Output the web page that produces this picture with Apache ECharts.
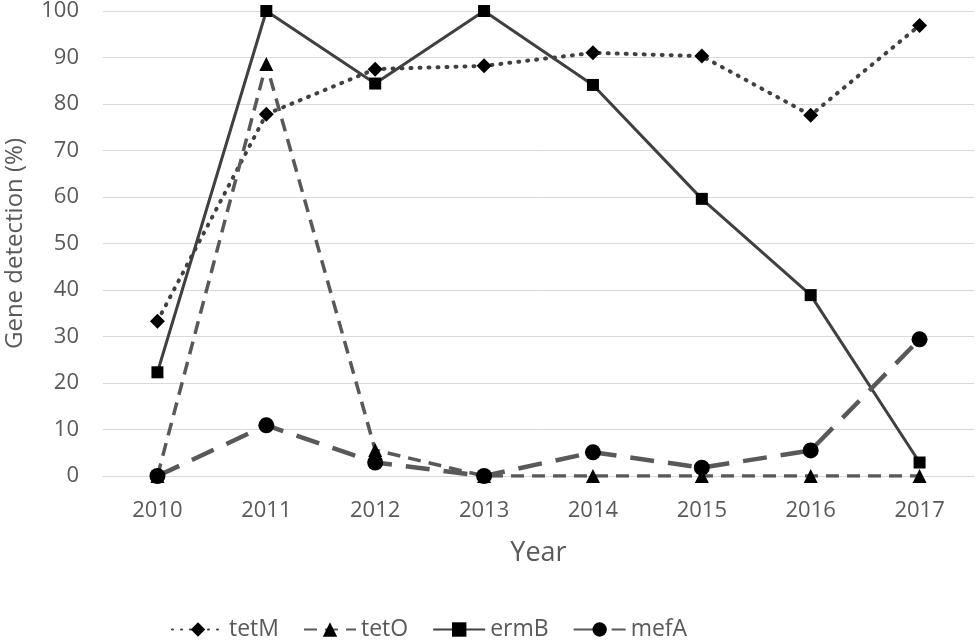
<!DOCTYPE html>
<html>
<head>
<meta charset="utf-8">
<script src="https://cdn.jsdelivr.net/npm/echarts@6/dist/echarts.min.js"></script>
<style>
  html, body { margin: 0; padding: 0; background: #fff; }
  #chart { width: 976px; height: 643px; }
</style>
</head>
<body>
<div id="chart"></div>
<script>
// data
var years = ['2010', '2011', '2012', '2013', '2014', '2015', '2016', '2017'];
var tetM = [33.3, 77.8, 87.5, 88.2, 91.0, 90.3, 77.6, 96.9];
var tetO = [0, 88.6, 5.6, 0, 0, 0, 0, 0];
var ermB = [22.3, 100, 84.4, 100, 84.1, 59.6, 38.9, 2.9];
var mefA = [0, 10.9, 2.9, 0, 5.1, 1.8, 5.5, 29.4];

var font = 'Open Sans';
var chart = echarts.init(document.getElementById('chart'));

function line(name, data, symbol, size, lineStyle) {
    return {
        name: name,
        type: 'line',
        data: data,
        symbol: symbol,
        symbolSize: size,
        showAllSymbol: true,
        itemStyle: { color: '#000' },
        lineStyle: lineStyle,
        z: 3
    };
}

var option = {
    backgroundColor: '#fff',
    animation: false,
    textStyle: { fontFamily: font },
    grid: { left: 103, right: 2, top: 11, bottom: 167, outerBoundsMode: 'none', containLabel: false },
    legend: {
        top: 613,
        left: 166,
        itemWidth: 52,
        itemHeight: 18,
        itemGap: 24,
        textStyle: { fontSize: 23, color: '#595959', fontFamily: font },
        data: ['tetM', 'tetO', 'ermB', 'mefA']
    },
    xAxis: {
        type: 'category',
        data: years,
        boundaryGap: true,
        name: 'Year',
        nameLocation: 'middle',
        nameGap: 64,
        nameTextStyle: { fontSize: 27, color: '#595959' },
        axisLine: { lineStyle: { color: '#d9d9d9', width: 1 } },
        axisTick: { show: false },
        axisLabel: { fontSize: 22, color: '#595959', margin: 24 }
    },
    yAxis: {
        type: 'value',
        min: 0,
        max: 100,
        interval: 10,
        name: 'Gene detection (%)',
        nameLocation: 'middle',
        nameGap: 76,
        nameTextStyle: { fontSize: 24, color: '#595959' },
        axisLine: { show: false },
        axisTick: { show: false },
        axisLabel: { fontSize: 22, color: '#595959', margin: 24 },
        splitLine: { lineStyle: { color: '#d9d9d9', width: 1 } }
    },
    series: [
        line('tetM', tetM, 'diamond', 15, { color: '#404040', width: 4, type: [1, 8], cap: 'round' }),
        line('tetO', tetO, 'triangle', 14, { color: '#595959', width: 3.5, type: [13, 8] }),
        line('ermB', ermB, 'rect', 12, { color: '#404040', width: 3 }),
        line('mefA', mefA, 'circle', 16, { color: '#595959', width: 4.5, type: [24, 14] })
    ]
};

chart.setOption(option);
</script>
</body>
</html>
